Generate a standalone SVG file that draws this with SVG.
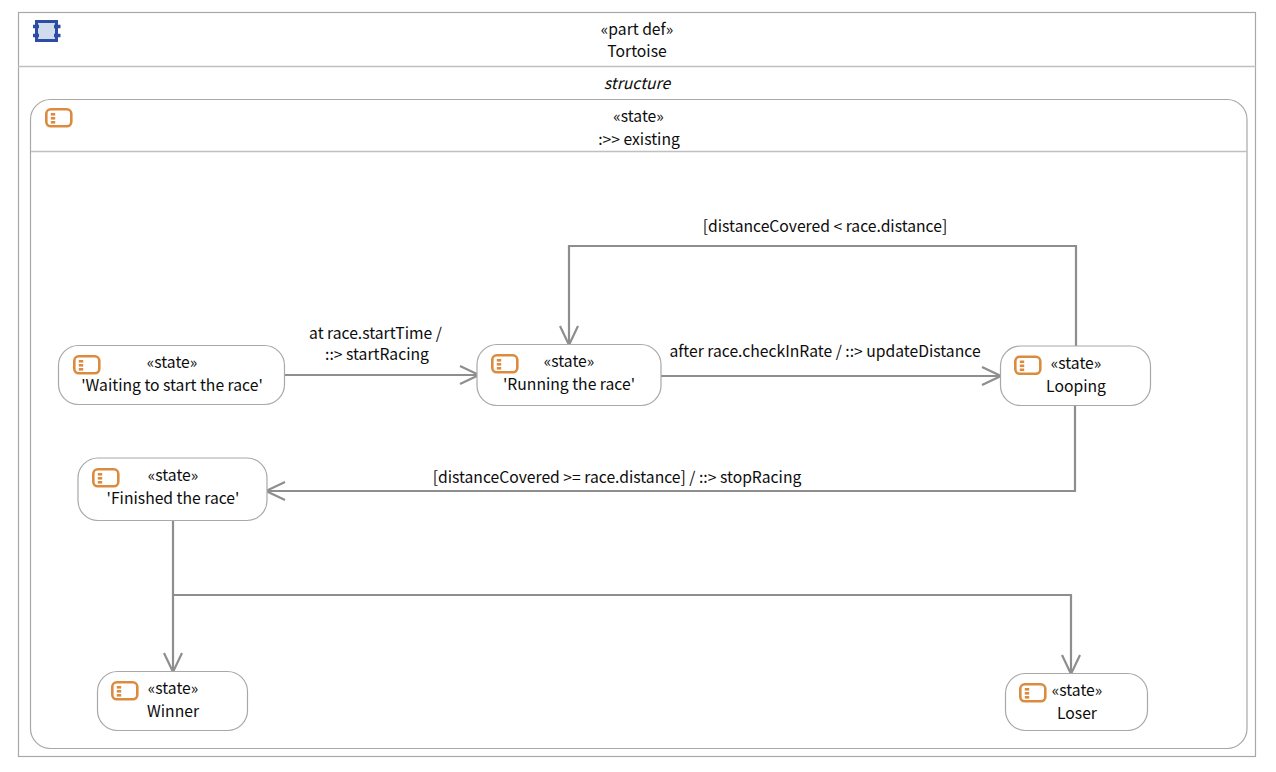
<svg xmlns="http://www.w3.org/2000/svg" width="1276" height="772" viewBox="0 0 1276 772">
<style>
text{font-family:"Noto Sans CJK JP","Noto Sans",sans-serif;font-size:15.7px;fill:#0c0c0c;text-anchor:middle}
.box{fill:#fff;stroke:#a8a8a8;stroke-width:1.2}
.div{stroke:#c0c0c0;stroke-width:1.500;fill:none}
.c{fill:none;stroke:#8e8e8e;stroke-width:2.200}
.ic{fill:none;stroke:#dc8b3e;stroke-width:2.600}
.id{fill:#dc8b3e}
</style>
<defs>
<marker id="a" markerUnits="userSpaceOnUse" markerWidth="24" markerHeight="24" refX="20" refY="12" orient="auto"><path d="M1 3L20 12L1 21" fill="none" stroke="#8e8e8e" stroke-width="2.200"/></marker>
<g id="si"><rect x="1.300" y="1.300" width="25" height="17" rx="4.500" class="ic"/><rect x="5.800" y="5" width="4.400" height="2.600" class="id"/><rect x="5.800" y="9" width="4.400" height="2.600" class="id"/><rect x="5.800" y="13" width="4.400" height="2.600" class="id"/></g>
</defs>
<g id="tortoise">
<rect x="18.500" y="12.500" width="1237" height="744" fill="#fff" stroke="#a8a8a8" stroke-width="1.200"/>
<path d="M18 66.500H1256" class="div"/>
<rect x="36.500" y="21.500" width="20" height="19" fill="#d0dcee" stroke="#2c4da3" stroke-width="3"/>
<path d="M33 26.500H39M33 35.500H39M54 26.500H60.500M54 35.500H60.500" stroke="#2c4da3" stroke-width="3.500"/>
<text x="637" y="35">«part def»</text><text x="637" y="57">Tortoise</text>
<text x="637" y="89" font-style="italic">structure</text>
</g>
<g id="existing">
<rect x="30.500" y="99.500" width="1216.500" height="649" rx="20" class="box"/>
<path d="M31 151.500H1247" class="div"/>
<use href="#si" x="45" y="108"/>
<text x="638.500" y="122">«state»</text><text x="639" y="145">:&gt;&gt; existing</text>
</g>
<g id="connectors">
<path class="c" d="M285 375H479" marker-end="url(#a)"/>
<path class="c" d="M661 376H1001" marker-end="url(#a)"/>
<path class="c" d="M1076 346V246H569V345" marker-end="url(#a)"/>
<path class="c" d="M1075 405V491H266" marker-end="url(#a)"/>
<path class="c" d="M173 521V672" marker-end="url(#a)"/>
<path class="c" d="M173 595H1071V674" marker-end="url(#a)"/>
<text x="375.500" y="339">at race.startTime /</text><text x="377" y="360">::&gt; startRacing</text>
<text x="825" y="357">after race.checkInRate / ::&gt; updateDistance</text>
<text x="825" y="232">[distanceCovered &lt; race.distance]</text>
<text x="617" y="483">[distanceCovered &gt;= race.distance] / ::&gt; stopRacing</text>
</g>
<g id="waiting"><rect x="58.500" y="345.500" width="226" height="59" rx="20" class="box"/><use href="#si" x="73" y="355"/><text x="172" y="368">«state»</text><text x="172" y="391">'Waiting to start the race'</text></g>
<g id="running"><rect x="477" y="344.500" width="184" height="61" rx="20" class="box"/><use href="#si" x="491" y="354"/><text x="569" y="367">«state»</text><text x="569" y="390">'Running the race'</text></g>
<g id="looping"><rect x="1000.500" y="346" width="150" height="59.500" rx="20" class="box"/><use href="#si" x="1014" y="355.500"/><text x="1076" y="369">«state»</text><text x="1076" y="392">Looping</text></g>
<g id="finished"><rect x="78" y="458" width="189" height="62.500" rx="20" class="box"/><use href="#si" x="92" y="468"/><text x="173" y="481">«state»</text><text x="173" y="504">'Finished the race'</text></g>
<g id="winner"><rect x="97.500" y="671.500" width="150" height="59" rx="20" class="box"/><use href="#si" x="111" y="681"/><text x="173" y="694">«state»</text><text x="173" y="717">Winner</text></g>
<g id="loser"><rect x="1005.500" y="673.500" width="142" height="57" rx="20" class="box"/><use href="#si" x="1019" y="683"/><text x="1077" y="696">«state»</text><text x="1077" y="719">Loser</text></g>
</svg>
